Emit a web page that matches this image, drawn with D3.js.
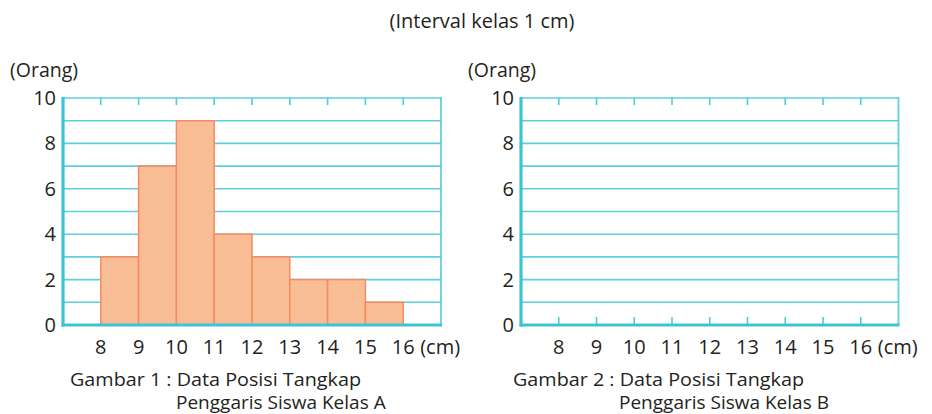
<!DOCTYPE html>
<html><head><meta charset="utf-8">
<script src="https://cdn.jsdelivr.net/npm/d3@7"></script>
<style>body{margin:0;background:#fff}svg{display:block}text{font-family:"Open Sans",sans-serif;fill:#231f20}</style>
</head><body><svg id="c" width="932" height="414"></svg>
<script>
const binStarts = [8, 9, 10, 11, 12, 13, 14, 15];
const countsA = [3, 7, 9, 4, 3, 2, 2, 1];
const xTicks = [8, 9, 10, 11, 12, 13, 14, 15, 16];
const yTicks = [0, 2, 4, 6, 8, 10];
const yGrid = [1, 2, 3, 4, 5, 6, 7, 8, 9, 10];
const title = "(Interval kelas 1 cm)";
const captionsA = ["Gambar 1 : Data Posisi Tangkap", "Penggaris Siswa Kelas A"];
const captionsB = ["Gambar 2 : Data Posisi Tangkap", "Penggaris Siswa Kelas B"];

const svg = d3.select("#c");
const cyan = "#4dcadb", cyanDark = "#3cc3d6";

svg.append("text").attr("x", 482).attr("y", 28).attr("text-anchor", "middle")
  .attr("font-size", 19.5).attr("textLength", 185).attr("lengthAdjust", "spacingAndGlyphs").text(title);

function panel(x0, x1, counts, caps, capX1, capX2) {
  const x = d3.scaleLinear().domain([7, 17]).range([x0, x1]);
  const y = d3.scaleLinear().domain([0, 10]).range([325, 98]);
  const g = svg.append("g");
  g.selectAll("line.grid").data(yGrid).join("line")
    .attr("x1", x0).attr("x2", x1).attr("y1", d => y(d)).attr("y2", d => y(d))
    .attr("stroke", cyan).attr("stroke-width", 1.6).attr("opacity", 0.9);
  g.append("line").attr("x1", x1).attr("x2", x1).attr("y1", y(10) - 1).attr("y2", y(0))
    .attr("stroke", cyan).attr("stroke-width", 2).attr("opacity", 0.8);
  g.selectAll("line.tt").data(xTicks).join("line")
    .attr("x1", d => x(d)).attr("x2", d => x(d)).attr("y1", y(10)).attr("y2", y(10) + 7)
    .attr("stroke", cyan).attr("stroke-width", 1.6);
  g.selectAll("line.bt").data(xTicks).join("line")
    .attr("x1", d => x(d)).attr("x2", d => x(d)).attr("y1", y(0)).attr("y2", y(0) - 8)
    .attr("stroke", cyan).attr("stroke-width", 1.6);
  if (counts) {
    g.selectAll("rect").data(binStarts).join("rect")
      .attr("x", d => x(d)).attr("width", d => x(d + 1) - x(d))
      .attr("y", (d, i) => y(counts[i])).attr("height", (d, i) => y(0) - y(counts[i]))
      .attr("fill", "#f9bd96").attr("stroke", "#f58a62").attr("stroke-width", 1.5);
  }
  g.append("line").attr("x1", x0).attr("x2", x0).attr("y1", y(10) - 1).attr("y2", y(0) + 1.5)
    .attr("stroke", cyanDark).attr("stroke-width", 3.2);
  g.append("line").attr("x1", x0 - 1.5).attr("x2", x1 + 1).attr("y1", y(0)).attr("y2", y(0))
    .attr("stroke", cyanDark).attr("stroke-width", 3.2);
  g.selectAll("text.yl").data(yTicks).join("text")
    .attr("x", x0 - 7).attr("y", d => y(d) + 7).attr("text-anchor", "end")
    .attr("font-size", 20).text(d => d);
  g.selectAll("text.xl").data(xTicks).join("text")
    .attr("x", d => x(d)).attr("y", 354).attr("text-anchor", "middle")
    .attr("font-size", 20).text(d => d);
  g.append("text").attr("x", x(16) + 17).attr("y", 354).attr("font-size", 20).text("(cm)");
  g.append("text").attr("x", x0 - 53).attr("y", 77).attr("font-size", 19.5).text("(Orang)");
  g.append("text").attr("x", capX1).attr("y", 386).attr("font-size", 19)
    .attr("textLength", 291).attr("lengthAdjust", "spacingAndGlyphs").text(caps[0]);
  g.append("text").attr("x", capX2).attr("y", 409).attr("font-size", 19).text(caps[1]);
}
panel(63, 441, countsA, captionsA, 70, 176);
panel(521, 898.5, null, captionsB, 513, 619);
</script></body></html>
